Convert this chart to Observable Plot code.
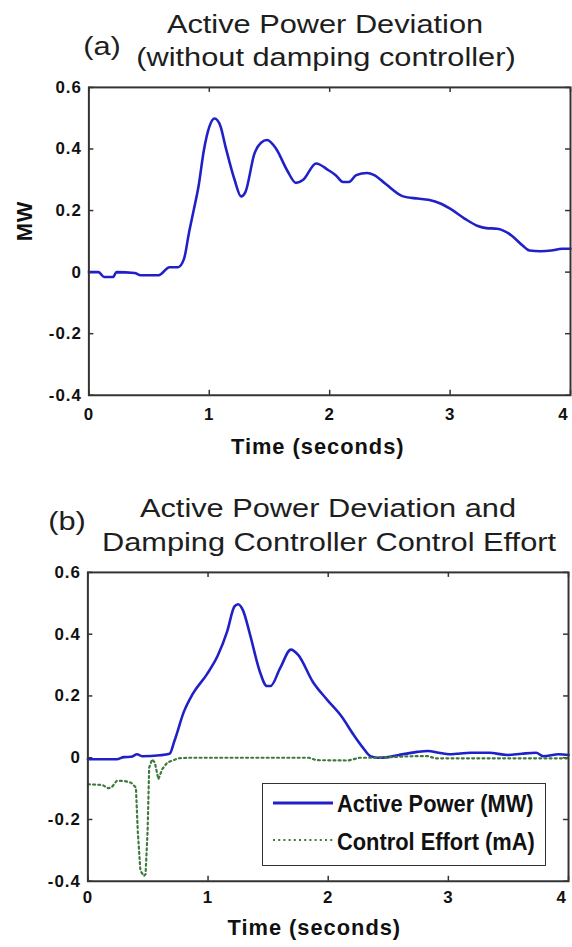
<!DOCTYPE html>
<html><head><meta charset="utf-8">
<script src="https://cdn.jsdelivr.net/npm/d3@7"></script>
<script src="https://cdn.jsdelivr.net/npm/@observablehq/plot@0.6"></script>
<style>
html,body{margin:0;padding:0;background:#fff;overflow:hidden;}
#page{position:relative;width:572px;height:947px;overflow:hidden;font-family:"Liberation Sans",Arial,sans-serif;}
.t{position:absolute;font-size:25px;line-height:25px;white-space:nowrap;color:#1e1e1e;transform:translateX(-50%) scaleX(1.23);z-index:2;}
#legend{position:absolute;left:262px;top:783px;width:284px;height:83px;border:1.5px solid #333;box-sizing:border-box;background:#fff;z-index:3;}
.lg{position:absolute;left:74px;font-weight:bold;font-size:24px;line-height:24px;white-space:nowrap;color:#111;transform:scaleX(0.91);transform-origin:left center;}
</style></head>
<body><div id="page">
<div class="t" style="left:325px;top:12px">Active Power Deviation</div>
<div class="t" style="left:326px;top:45px">(without damping controller)</div>
<div class="t" style="left:102px;top:34px">(a)</div>
<div class="t" style="left:328px;top:496px">Active Power Deviation and</div>
<div class="t" style="left:329px;top:530px">Damping Controller Control Effort</div>
<div class="t" style="left:67px;top:509px">(b)</div>
<div id="legend">
  <svg width="284" height="83" style="position:absolute;left:0;top:0">
    <line x1="10" x2="70" y1="19" y2="19" stroke="#2020c8" stroke-width="3"/>
    <line x1="10" x2="70" y1="56" y2="56" stroke="#3d7a3d" stroke-width="2.2" stroke-dasharray="2,3.2"/>
  </svg>
  <span class="lg" style="top:8px">Active Power (MW)</span>
  <span class="lg" style="top:46px">Control Effort (mA)</span>
</div>
</div>
<script>
// Panel (a): active power deviation without damping controller
const tA = [0,0.08,0.126,0.2,0.23,0.38,0.43,0.58,0.67,0.74,0.79,0.83,0.87,0.91,0.955,1.0,1.044,1.09,1.135,1.21,1.264,1.3,1.375,1.43,1.48,1.556,1.646,1.72,1.78,1.887,1.99,2.05,2.11,2.16,2.22,2.31,2.37,2.46,2.61,2.73,2.82,2.925,3.0,3.12,3.23,3.30,3.39,3.51,3.60,3.66,3.75,3.84,3.93,4.0];
const pA = [0,0,-0.016,-0.016,0,-0.003,-0.01,-0.01,0.016,0.016,0.043,0.125,0.2,0.277,0.396,0.472,0.499,0.477,0.407,0.3,0.246,0.26,0.385,0.42,0.429,0.4,0.331,0.29,0.3,0.353,0.331,0.315,0.293,0.293,0.315,0.322,0.315,0.288,0.246,0.239,0.235,0.222,0.206,0.174,0.15,0.143,0.141,0.119,0.087,0.07,0.068,0.07,0.076,0.076];

// Panel (b): active power deviation with damping controller
const tB = [0,0.09,0.24,0.3,0.36,0.41,0.45,0.6,0.68,0.72,0.8,0.87,0.99,1.08,1.16,1.22,1.25,1.29,1.35,1.43,1.49,1.52,1.6,1.69,1.75,1.87,1.99,2.11,2.21,2.29,2.35,2.41,2.5,2.59,2.74,2.83,2.92,3.01,3.07,3.19,3.34,3.49,3.61,3.73,3.79,3.92,4.0];
const pB = [-0.005,-0.005,-0.005,0.002,0.003,0.011,0.005,0.008,0.013,0.054,0.15,0.205,0.27,0.33,0.41,0.49,0.497,0.478,0.398,0.28,0.232,0.232,0.29,0.35,0.333,0.247,0.188,0.134,0.075,0.032,0.005,0.0,0.002,0.009,0.019,0.022,0.016,0.011,0.013,0.016,0.016,0.009,0.013,0.016,0.005,0.011,0.009];

// Panel (b): damping controller control effort
const tC = [0,0.12,0.17,0.2,0.24,0.3,0.36,0.40,0.415,0.437,0.467,0.48,0.497,0.51,0.535,0.557,0.587,0.617,0.66,0.75,0.84,1.84,1.9,2.17,2.26,2.41,2.71,2.83,2.89,4.0];
const cB = [-0.086,-0.088,-0.099,-0.095,-0.075,-0.075,-0.081,-0.097,-0.237,-0.366,-0.383,-0.377,-0.237,-0.032,-0.005,-0.016,-0.07,-0.038,-0.016,-0.002,0,0,-0.008,-0.009,0,0,0.005,0.005,-0.002,-0.002];

const xTicks = [0,1,2,3,4];
const yTicks = [-0.4,-0.2,0,0.2,0.4,0.6];
const xLabel = "Time (seconds)";
const yLabel = "MW";

const dataA = tA.map((t,i)=>({t, v:pA[i]}));
const dataB = tB.map((t,i)=>({t, v:pB[i]}));
const dataC = tC.map((t,i)=>({t, v:cB[i]}));

const BLUE = "#2020c8", GREEN = "#3d7a3d", FRAME = "#333";

function panel({top, mt, ih, mb, ml, mr, iw, lines, tickPad, labDy, labDx, mw}) {
  const marks = [
    Plot.axisX({ticks: xTicks.slice(0, -1), tickSize: 0, tickPadding: tickPad, tickFormat: d => String(d)}),
    Plot.axisX({ticks: xTicks.slice(-1), tickSize: 0, tickPadding: tickPad, dx: -7, tickFormat: d => String(d)}),
    Plot.axisY({ticks: yTicks, tickSize: 0, tickPadding: 7, tickFormat: d => String(d)}),
    Plot.tickX(xTicks, {x: d => d, insetTop: ih - 5, stroke: FRAME, strokeWidth: 1.5}),
    Plot.tickX(xTicks, {x: d => d, insetBottom: ih - 5, stroke: FRAME, strokeWidth: 1.5}),
    Plot.tickY(yTicks, {y: d => d, insetRight: iw - 5, stroke: FRAME, strokeWidth: 1.5}),
    Plot.tickY(yTicks, {y: d => d, insetLeft: iw - 5, stroke: FRAME, strokeWidth: 1.5}),
    ...lines,
    Plot.frame({stroke: FRAME, strokeWidth: 2}),
    Plot.text([xLabel], {text: d => d, frameAnchor: "bottom", dy: labDy, dx: labDx, fontSize: 22, fill: "#111"})
  ];
  if (mw) marks.push(Plot.text([yLabel], {text: d => d, frameAnchor: "left", dx: -64, rotate: -90, fontSize: 22, fill: "#111"}));
  const svg = Plot.plot({
    width: ml + iw + mr,
    height: mt + ih + mb,
    marginTop: mt, marginBottom: mb, marginLeft: ml, marginRight: mr,
    x: {domain: [0, 4], label: null},
    y: {domain: [-0.4, 0.6], label: null},
    style: {fontFamily: '"Liberation Sans", Arial, sans-serif', fontSize: "17px", fontWeight: "bold", letterSpacing: "1px", color: "#111", background: "transparent", overflow: "visible"},
    marks
  });
  svg.style.position = "absolute";
  svg.style.left = "0px";
  svg.style.top = top + "px";
  document.getElementById("page").prepend(svg);
}

panel({top: 75, mt: 12, ih: 310, mb: 70, ml: 89, mr: 2, iw: 485, tickPad: 13, labDy: 59, labDx: -12, mw: true,
  lines: [Plot.line(dataA, {x: "t", y: "v", stroke: BLUE, strokeWidth: 2.6, curve: "monotone-x"})]});

panel({top: 560, mt: 12, ih: 311, mb: 64, ml: 88, mr: 4, iw: 484, tickPad: 10, labDy: 54, labDx: -14, mw: false,
  lines: [
    Plot.line(dataB, {x: "t", y: "v", stroke: BLUE, strokeWidth: 2.6, curve: "monotone-x"}),
    Plot.line(dataC, {x: "t", y: "v", stroke: GREEN, strokeWidth: 2.2, strokeDasharray: "2,3.2"})
  ]});
</script>
</body></html>
